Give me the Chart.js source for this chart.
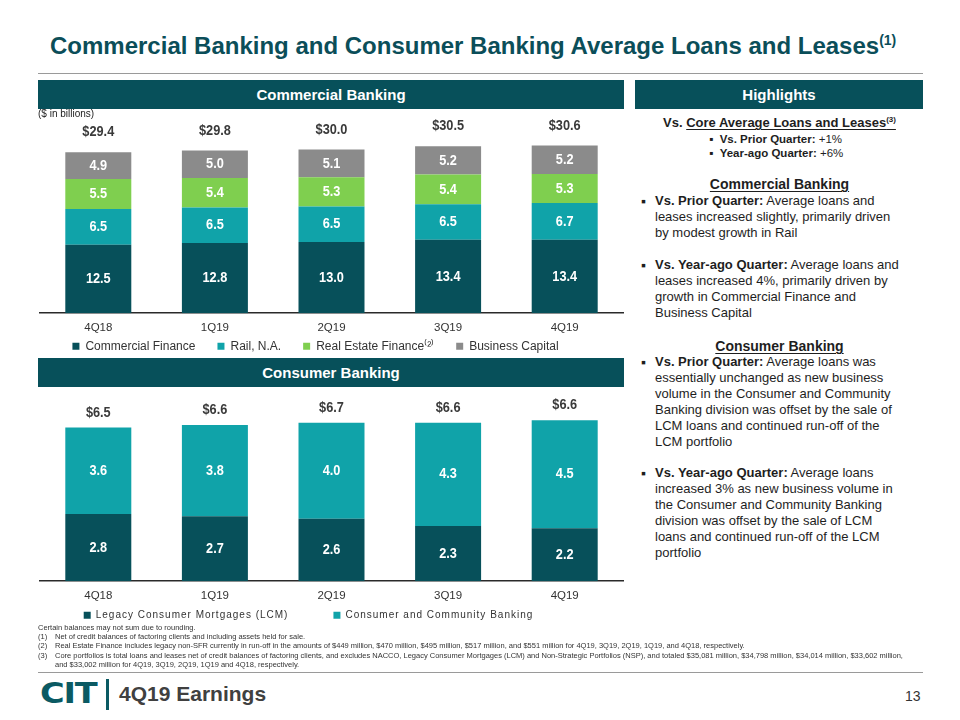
<!DOCTYPE html>
<html lang="en">
<head>
<meta charset="UTF-8">
<title>Commercial Banking and Consumer Banking Average Loans and Leases</title>
<style>
  body { margin: 0; background: #fff; font-family: "Liberation Sans", Arial, sans-serif; color: #1e1e1e; }
  #slide { position: relative; width: 960px; height: 720px; overflow: hidden; }
  .title { position: absolute; left: 50px; top: 31px; margin: 0; font: bold 24px "Liberation Sans Narrow", "Arial Narrow", "Liberation Sans", Arial, sans-serif; color: #0b4e59; line-height: 30px; white-space: nowrap; }
  .title sup { font-size: 14px; line-height: 0; }
  .rule { position: absolute; left: 38px; width: 885px; height: 0; border-top: 1.5px solid #9a9a9a; }
  .band { position: absolute; height: 29px; line-height: 29px; background: #07505a; color: #fff; font-weight: bold; font-size: 15px; text-align: center; z-index: 2; }
  .unit { position: absolute; left: 38px; top: 108px; font-size: 10px; color: #222; z-index: 2; }
  canvas { position: absolute; z-index: 1; }
  .hl { position: absolute; left: 636px; width: 287px; font-size: 13px; line-height: 16.1px; z-index: 2; }
  .hl.c { text-align: center; }
  .hl u { text-decoration-thickness: 1px; text-underline-offset: 2px; }
  .hl sup { font-size: 8px; line-height: 0; }
  .sub { position: absolute; left: 709px; font-size: 11.5px; line-height: 14px; z-index: 2; }
  .sub .blt { font-size: 12px; }
  .para { position: absolute; left: 655px; width: 275px; font-size: 13px; line-height: 16.1px; white-space: nowrap; z-index: 2; }
  .para .blt { position: absolute; left: -14px; top: 0; font-size: 14px; }
  .notes { position: absolute; left: 38px; top: 623px; font-size: 7.5px; line-height: 9.2px; color: #333; white-space: nowrap; z-index: 2; }
  .notes .n { display: inline-block; width: 17px; }
  .notes .ind { padding-left: 17px; }
  .logo { position: absolute; left: 40px; top: 677px; font: 900 28px "DejaVu Sans", sans-serif; color: #0b5a63; letter-spacing: -1px; transform: scaleX(1.2); transform-origin: left center; }
  .sep { position: absolute; left: 106px; top: 679px; width: 2.5px; height: 31px; background: #0b5a63; }
  .earn { position: absolute; left: 119px; top: 682px; font: bold 21px "Liberation Sans", Arial, sans-serif; color: #404040; }
  .page { position: absolute; left: 905px; top: 688px; font-size: 14px; color: #333; }
</style>
</head>
<body>
<div id="slide">
  <h1 class="title">Commercial Banking and Consumer Banking Average Loans and Leases<sup>(1)</sup></h1>
  <div class="rule" style="top:73px"></div>

  <div class="band" style="left:38px; top:80px; width:586px">Commercial Banking</div>
  <div class="band" style="left:635px; top:80px; width:288px">Highlights</div>
  <div class="unit">($ in billions)</div>
  <canvas id="commercialChart" width="586" height="277" style="left:38px; top:110px"></canvas>

  <div class="band" style="left:38px; top:358px; width:586px">Consumer Banking</div>
  <canvas id="consumerChart" width="586" height="288" style="left:38px; top:388px"></canvas>

  <div class="hl c" style="top:115px"><b>Vs. <u>Core Average Loans and Leases<sup>(3)</sup></u></b></div>
  <div class="sub" style="top:132px"><span class="blt">&#9642;</span>&nbsp; <b>Vs. Prior Quarter:</b> +1%</div>
  <div class="sub" style="top:146px"><span class="blt">&#9642;</span>&nbsp; <b>Year-ago Quarter:</b> +6%</div>

  <div class="hl c" style="top:176px; font-size:14px"><b><u>Commercial Banking</u></b></div>
  <div class="para" style="top:193px"><span class="blt">&#9642;</span><b>Vs. Prior Quarter:</b> Average loans and<br>leases increased slightly, primarily driven<br>by modest growth in Rail</div>
  <div class="para" style="top:257px"><span class="blt">&#9642;</span><b>Vs. Year-ago Quarter:</b> Average loans and<br>leases increased 4%, primarily driven by<br>growth in Commercial Finance and<br>Business Capital</div>

  <div class="hl c" style="top:338px; font-size:14px"><b><u>Consumer Banking</u></b></div>
  <div class="para" style="top:354px"><span class="blt">&#9642;</span><b>Vs. Prior Quarter:</b> Average loans was<br>essentially unchanged as new business<br>volume in the Consumer and Community<br>Banking division was offset by the sale of<br>LCM loans and continued run-off of the<br>LCM portfolio</div>
  <div class="para" style="top:465px"><span class="blt">&#9642;</span><b>Vs. Year-ago Quarter:</b> Average loans<br>increased 3% as new business volume in<br>the Consumer and Community Banking<br>division was offset by the sale of LCM<br>loans and continued run-off of the LCM<br>portfolio</div>

  <div class="notes">
    <div>Certain balances may not sum due to rounding.</div>
    <div><span class="n">(1)</span>Net of credit balances of factoring clients and including assets held for sale.</div>
    <div><span class="n">(2)</span>Real Estate Finance includes legacy non-SFR currently in run-off in the amounts of $449 million, $470 million, $495 million, $517 million, and $551 million for 4Q19, 3Q19, 2Q19, 1Q19, and 4Q18, respectively.</div>
    <div><span class="n">(3)</span>Core portfolios is total loans and leases net of credit balances of factoring clients, and excludes NACCO, Legacy Consumer Mortgages (LCM) and Non-Strategic Portfolios (NSP), and totaled $35,081 million, $34,798 million, $34,014 million, $33,602 million,</div>
    <div class="ind">and $33,002 million for 4Q19, 3Q19, 2Q19, 1Q19 and 4Q18, respectively.</div>
  </div>
  <div class="rule" style="top:672px"></div>

  <div class="logo">CIT</div>
  <div class="sep"></div>
  <div class="earn">4Q19 Earnings</div>
  <div class="page">13</div>
</div>

<script src="https://cdn.jsdelivr.net/npm/chart.js"></script>
<script>
  // data, $ in billions
  const quarters = ['4Q18', '1Q19', '2Q19', '3Q19', '4Q19'];

  const commercialFinance = [12.5, 12.8, 13.0, 13.4, 13.4];
  const railNA = [6.5, 6.5, 6.5, 6.5, 6.7];
  const realEstateFinance = [5.5, 5.4, 5.3, 5.4, 5.3];
  const businessCapital = [4.9, 5.0, 5.1, 5.2, 5.2];
  const commercialTotals = [29.4, 29.8, 30.0, 30.5, 30.6];

  const legacyMortgages = [2.8, 2.7, 2.6, 2.3, 2.2];
  const consumerCommunity = [3.6, 3.8, 4.0, 4.3, 4.5];
  const consumerTotals = [6.5, 6.6, 6.7, 6.6, 6.6];

  const SANS = '"Liberation Sans", Arial, sans-serif';

  const DARK = '#07505a';
  const TEAL = '#10a3a9';
  const GREEN = '#7fcf4f';
  const GREY = '#8b8b8b';

  // draws text squeezed horizontally (no narrow font installed)
  function narrowText(ctx, text, x, y) {
    ctx.save();
    ctx.translate(x, y);
    ctx.scale(0.85, 1);
    ctx.fillText(text, 0, 0);
    ctx.restore();
  }

  // white numbers inside segments + $ totals above each bar
  function valueLabels(totals, offset) {
    return {
      id: 'valueLabels',
      afterDatasetsDraw(chart) {
        const ctx = chart.ctx;
        ctx.save();
        ctx.letterSpacing = '0px';
        ctx.textAlign = 'center';
        ctx.textBaseline = 'middle';
        ctx.font = 'bold 15px ' + SANS;
        ctx.fillStyle = '#ffffff';
        chart.data.datasets.forEach((ds, i) => {
          chart.getDatasetMeta(i).data.forEach((bar, j) => {
            narrowText(ctx, ds.data[j].toFixed(1), bar.x, (bar.y + bar.base) / 2);
          });
        });
        const top = chart.getDatasetMeta(chart.data.datasets.length - 1).data;
        ctx.fillStyle = '#3a3a3a';
        totals.forEach((t, j) => {
          narrowText(ctx, '$' + t.toFixed(1), top[j].x, top[j].y - offset);
        });
        ctx.restore();
      }
    };
  }

  // put the legend row a fixed distance under the axis
  function placeLegend(gap, dx, fontSize) {
    return {
      id: 'placeLegend',
      afterLayout(chart) {
        const lg = chart.legend;
        const pad = lg.options.labels.padding;
        const h = lg.height;
        lg.top = chart.chartArea.bottom + gap - pad - fontSize / 2;
        lg.bottom = lg.top + h;
        lg.left += dx;
        lg.right += dx;
      }
    };
  }

  // letter-spaced legend text (consumer chart)
  const spacedLegend = {
    id: 'spacedLegend',
    afterInit(chart) {
      const lg = chart.legend;
      ['fit', 'draw'].forEach(fn => {
        const orig = lg[fn];
        lg[fn] = function () {
          const prev = this.ctx.letterSpacing;
          this.ctx.letterSpacing = '1px';
          orig.apply(this, arguments);
          this.ctx.letterSpacing = prev;
        };
      });
    }
  };

  function barOptions(yMax, padTop, legendFont, legendPad) {
    return {
      responsive: false,
      animation: false,
      layout: { padding: { left: 2, right: 1, top: padTop, bottom: 0 } },
      datasets: { bar: { categoryPercentage: 1, barPercentage: 0.566 } },
      scales: {
        x: {
          stacked: true,
          grid: { display: false, drawTicks: false },
          border: { display: true, color: '#2a2a2a', width: 1.5 },
          ticks: { color: '#333', padding: 8, font: { family: SANS, size: 11.5 } }
        },
        y: { stacked: true, display: false, min: 0, max: yMax }
      },
      plugins: {
        legend: {
          position: 'bottom',
          labels: {
            boxWidth: 7,
            boxHeight: 7,
            padding: legendPad,
            color: '#333',
            font: { family: SANS, size: legendFont }
          }
        },
        tooltip: { enabled: false }
      }
    };
  }

  new Chart(document.getElementById('commercialChart'), {
    type: 'bar',
    data: {
      labels: quarters,
      datasets: [
        { label: 'Commercial Finance', data: commercialFinance, backgroundColor: DARK },
        { label: 'Rail, N.A.', data: railNA, backgroundColor: TEAL },
        { label: 'Real Estate Finance\u207D\u00B2\u207E', data: realEstateFinance, backgroundColor: GREEN },
        { label: 'Business Capital', data: businessCapital, backgroundColor: GREY }
      ]
    },
    options: barOptions(36, 6, 12, 22),
    plugins: [valueLabels(commercialTotals, 20), placeLegend(33, -16, 12)]
  });

  new Chart(document.getElementById('consumerChart'), {
    type: 'bar',
    data: {
      labels: quarters,
      datasets: [
        { label: 'Legacy Consumer Mortgages (LCM)', data: legacyMortgages, backgroundColor: DARK },
        { label: 'Consumer and Community Banking', data: consumerCommunity, backgroundColor: TEAL }
      ]
    },
    options: barOptions(8, 1, 10, 45),
    plugins: [spacedLegend, valueLabels(consumerTotals, 15), placeLegend(34, -23, 10)]
  });
</script>
</body>
</html>
